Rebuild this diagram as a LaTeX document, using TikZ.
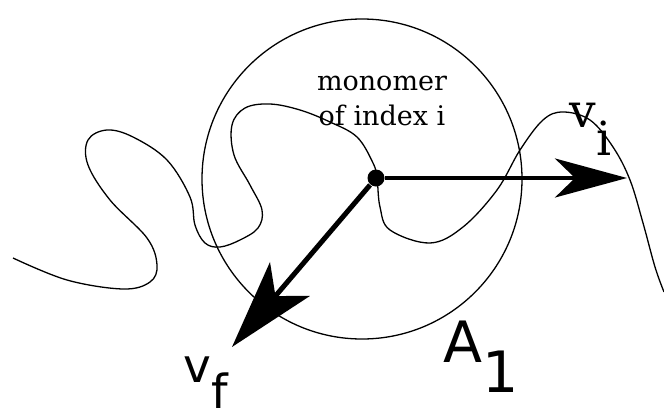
\documentclass[tikz,border=0pt]{standalone}
\usepackage{fontspec}
\setmainfont{DejaVu Serif}
\newfontfamily\labelsans{DejaVu Sans}
\usetikzlibrary{arrows.meta}

\tikzset{every picture/.style={line width=1.3pt}}

\begin{document}
\begin{tikzpicture}[x=1pt,y=1pt,yscale=-1,xscale=1]
%set diagram: 664 wide, 410 high
\useasboundingbox (0,0) rectangle (664,410);

%Shape: Circle [id:region A1]
\draw (362,179) circle (160);

%Curve Lines [id:chain]
\draw plot [smooth, tension=0.6] coordinates {(13,258) (67,280) (123,289) (150,282) (157,265) (147,238) (110,200) (88,165) (88,140) (107,130) (133,137) (167,160) (190,197) (195,225) (205,243) (220,247) (240,240) (258,228) (262,210) (250,185) (234,155) (232,125) (245,108) (270,104) (300,110) (330,122) (357,137) (373,163) (377,178) (380,207) (390,230) (430,243) (463,227) (497,190) (520,150) (543,120) (563,112) (590,120) (613,147) (630,180) (643,223) (655,267) (664,292)};

%Shape: Dot [id:monomer]
\node [circle, fill, inner sep=0pt, minimum size=17pt] (mono) at (376,178) {};

\coordinate (vi tip) at (627,178);
\coordinate (vf tip) at (232,347);

%Straight Lines [id:vi]
\draw [line width=4pt, -{Stealth[length=72pt,width=39pt,inset=20pt]}] (mono) -- (vi tip);
%Straight Lines [id:vf]
\draw [line width=5pt, -{Stealth[length=89pt,width=52pt,inset=22pt]}] (mono) -- (vf tip);

% Text Node
\node [anchor=base, align=center, inner sep=0pt, font=\fontsize{27}{35}\selectfont] (monolabel) at (382,125) {monomer\\of index i};
% Text Node
\node [anchor=base west, inner sep=0pt, font=\fontsize{47}{47}\selectfont] (vilabel) at (569,127) {v\raisebox{-28pt}{i}};
% Text Node
\node [anchor=base west, inner sep=0pt, font=\labelsans\fontsize{47}{47}\selectfont] (vflabel) at (183,382) {v\raisebox{-26pt}{f}};
% Text Node
\node [anchor=base west, inner sep=0pt, font=\labelsans\fontsize{57}{57}\selectfont] (alabel) at (443,362) {A\raisebox{-30pt}{1}};

\end{tikzpicture}
\end{document}
